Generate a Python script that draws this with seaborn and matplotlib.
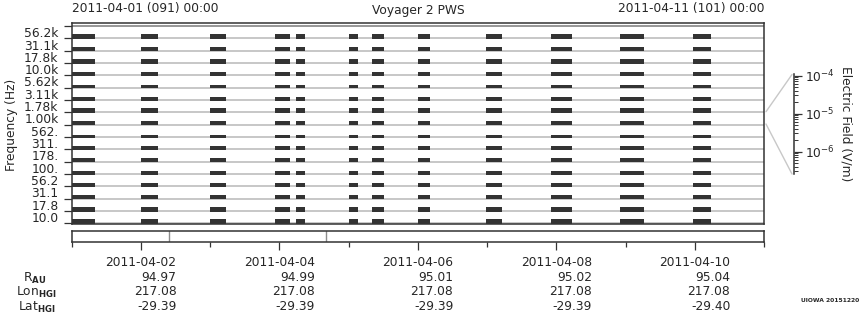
import numpy as np
import pandas as pd
import matplotlib
matplotlib.use("Agg")
import matplotlib.pyplot as plt
from matplotlib.lines import Line2D
from matplotlib.ticker import LogLocator, NullFormatter
import seaborn as sns

# ---------------- data ----------------
# frequency channel labels, bottom (lowest) to top
freq_labels = ["10.0", "17.8", "31.1", "56.2", "100.", "178.", "311.", "562.",
               "1.00k", "1.78k", "3.11k", "5.62k", "10.0k", "17.8k", "31.1k", "56.2k"]
# relative signal height per channel (fraction of the channel band), bottom to top
channel_amp = [0.36, 0.32, 0.32, 0.24, 0.24, 0.32, 0.24, 0.16,
               0.32, 0.32, 0.24, 0.24, 0.24, 0.32, 0.32, 0.32]
# observation windows, days since 2011-04-01 00:00
win_start = [0.00, 1.00, 2.00, 2.94, 3.24, 4.01, 4.34, 5.00, 5.99, 6.93, 7.92, 8.98]
win_end   = [0.34, 1.24, 2.23, 3.16, 3.37, 4.13, 4.51, 5.18, 6.21, 7.23, 8.27, 9.24]
# markers in the lower strip (days)
strip_marks = [1.41, 3.675]
# ephemeris table
eph_days  = [1, 3, 5, 7, 9]
eph_dates = ["2011-04-02", "2011-04-04", "2011-04-06", "2011-04-08", "2011-04-10"]
eph_r     = ["94.97", "94.99", "95.01", "95.02", "95.04"]
eph_lon   = ["217.08", "217.08", "217.08", "217.08", "217.08"]
eph_lat   = ["-29.39", "-29.39", "-29.39", "-29.39", "-29.40"]

windows = pd.DataFrame({"start": win_start, "end": win_end})
windows["width"] = windows["end"] - windows["start"]

# ---------------- style ----------------
sns.set_theme(style="white")
plt.rcParams["font.family"] = ["DejaVu Sans"]
TXT = "#262626"
FS = 8.8
plt.rcParams.update({"text.color": TXT, "axes.labelcolor": TXT,
                     "xtick.color": "#333333", "ytick.color": "#333333",
                     "xtick.labelcolor": TXT, "ytick.labelcolor": TXT})

W, H = 860, 320
def fx(px): return px / W
def fy(py): return 1 - py / H

fig = plt.figure(figsize=(8.6, 3.2), dpi=100)
fig.patch.set_facecolor("white")

# ---------------- main panel ----------------
L, R = 71.7, 764
ax = fig.add_axes([fx(L), fy(224), fx(R) - fx(L), fy(23.3) - fy(224)])
ax.set_facecolor("white")
nch = len(freq_labels)
base = np.arange(nch + 1)
ax.hlines(base[:-1], 0, 10, colors="#b8b8b8", lw=1.1, zorder=1)
ax.hlines(base[-1], 0, 10, colors="#7a7a7a", lw=1.1, zorder=1)
xr = list(zip(windows["start"], windows["width"]))
for i, a in enumerate(channel_amp):
    ax.broken_barh(xr, (i - 0.06, a + 0.06), facecolors="#333333", edgecolor="none", zorder=2)
ax.set_xlim(0, 10)
ax.set_ylim(-0.057, 16.22)
ax.set_xticks([])
ax.set_yticks(base)
ax.set_yticks(np.arange(nch) + 0.5, labels=freq_labels, minor=True)
ax.tick_params(axis="y", which="major", left=True, length=6, width=0.9, labelleft=False)
ax.tick_params(axis="y", which="minor", left=True, length=0, pad=9.5, labelsize=FS)
for s in ax.spines.values():
    s.set_color("#333333"); s.set_linewidth(1.1)

fig.text(fx(12), fy(125), "Frequency (Hz)", rotation=90, ha="center", va="center", fontsize=FS)
fig.text(fx(L), fy(8.5), "2011-04-01 (091) 00:00", ha="left", va="center", fontsize=FS)
fig.text(fx((L + R) / 2), fy(10.5), "Voyager 2 PWS", ha="center", va="center", fontsize=FS)
fig.text(fx(R), fy(8.5), "2011-04-11 (101) 00:00", ha="right", va="center", fontsize=FS)

# ---------------- colour scale ----------------
cax = fig.add_axes([fx(794), fy(174), 0.0001, fy(74) - fy(174)])
cax.set_facecolor("none")
cax.set_yscale("log")
cax.set_ylim(10 ** -6.59, 10 ** -3.96)
cax.set_xticks([])
cax.yaxis.tick_right()
cax.yaxis.set_major_locator(LogLocator(base=10, numticks=10))
cax.yaxis.set_minor_locator(LogLocator(base=10, subs=np.arange(2, 10), numticks=20))
cax.yaxis.set_minor_formatter(NullFormatter())
cax.tick_params(axis="y", which="major", direction="out", length=6, width=0.9, pad=2, labelsize=FS)
cax.tick_params(axis="y", which="minor", direction="out", length=3.2, width=0.7)
for k in ["left", "top", "bottom"]:
    cax.spines[k].set_visible(False)
cax.spines["right"].set_color("#333333"); cax.spines["right"].set_linewidth(1.1)
fig.text(fx(846), fy(124), "Electric Field (V/m)", rotation=-90, ha="center", va="center", fontsize=FS)
fig.add_artist(Line2D([fx(766), fx(792)], [fy(111.7), fy(74.5)], color="#c8c8c8", lw=1))
fig.add_artist(Line2D([fx(766), fx(792)], [fy(124), fy(174)], color="#c8c8c8", lw=1))

# ---------------- lower strip & ephemeris ----------------
bx = fig.add_axes([fx(L), fy(242), fx(R) - fx(L), fy(231) - fy(242)])
bx.set_facecolor("white")
bx.set_xlim(0, 10); bx.set_ylim(0, 1)
bx.set_yticks([])
for m in strip_marks:
    bx.axvline(m, color="#8c8c8c", lw=1)
labels = [f"{d}\n{r}\n{lo}\n{la}" for d, r, lo, la in zip(eph_dates, eph_r, eph_lon, eph_lat)]
bx.set_xticks(eph_days, labels=labels)
bx.set_xticks([0, 2, 4, 6, 8, 10], minor=True)
bx.tick_params(axis="x", which="major", bottom=True, direction="out", length=6, width=0.9, pad=4.3, labelsize=FS)
bx.tick_params(axis="x", which="minor", bottom=True, direction="out", length=3.3, width=0.9)
for t in bx.get_xticklabels():
    t.set_multialignment("right")
    t.set_linespacing(1.14)
for s in bx.spines.values():
    s.set_color("#333333"); s.set_linewidth(1.1)

fig.text(fx(35), fy(278), r"R$_{\mathbf{AU}}$", ha="center", va="center", fontsize=FS)
fig.text(fx(36), fy(292.5), r"Lon$_{\mathbf{HGI}}$", ha="center", va="center", fontsize=FS)
fig.text(fx(36.5), fy(307), r"Lat$_{\mathbf{HGI}}$", ha="center", va="center", fontsize=FS)
fig.text(fx(859), fy(301), "UIOWA 20151220", ha="right", va="center", fontsize=4.3, fontweight="bold")

fig.savefig("out.png", dpi=100, facecolor="white")
